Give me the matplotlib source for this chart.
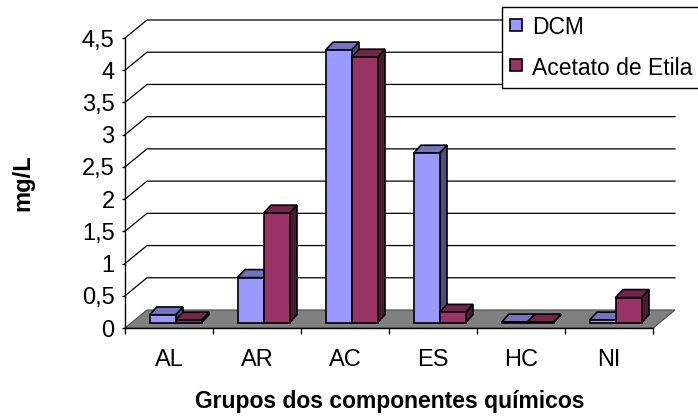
import matplotlib
matplotlib.use("Agg")
import matplotlib.pyplot as plt
from matplotlib.patches import Polygon
from matplotlib.lines import Line2D
import numpy as np

# ---- data -------------------------------------------------------------
categories = ["AL", "AR", "AC", "ES", "HC", "NI"]
dcm = [0.12, 0.70, 4.23, 2.63, 0.01, 0.04]
acetato = [0.04, 1.70, 4.12, 0.16, 0.01, 0.39]
series_names = ["DCM", "Acetato de Etila"]
yticks = [0, 0.5, 1, 1.5, 2, 2.5, 3, 3.5, 4, 4.5]
ytick_labels = ["0", "0,5", "1", "1,5", "2", "2,5", "3", "3,5", "4", "4,5"]

# ---- style ------------------------------------------------------------
plt.rcParams["font.family"] = ["Liberation Sans", "DejaVu Sans"]

# front, top and side shades of each series
shades = [
    ("#9999FF", "#7373BF", "#4D4D80"),
    ("#993366", "#73264D", "#4D1A33"),
]

W, H = 698, 419
fig = plt.figure(figsize=(W / 100, H / 100), dpi=100)

# front plane of the plot area, in pixels
left_px, right_px, top_px, bottom_px = 125, 653, 38, 328
ax = fig.add_axes([left_px / W, 1 - bottom_px / H,
                   (right_px - left_px) / W, (bottom_px - top_px) / H])
n = len(categories)
ax.set_xlim(0, n)
ax.set_ylim(0, yticks[-1])
ax.patch.set_visible(False)

# pixel sizes in data units, used for the oblique depth effect
px_x = n / (right_px - left_px)
px_y = yticks[-1] / (bottom_px - top_px)
wall_dx, wall_dy = 22 * px_x, 18 * px_y
base_dx, base_dy = 6.5 * px_x, 5.3 * px_y
bar_dx, bar_dy = 7.5 * px_x, 8 * px_y
bar_w = 26 * px_x

# back wall gridlines, running diagonally from the front axis
for y in yticks[1:]:
    ax.plot([0, wall_dx, n + wall_dx], [y, y + wall_dy, y + wall_dy],
            color="black", lw=0.9, clip_on=False, zorder=1)

# grey floor
floor = Polygon([(0, 0), (n, 0), (n + wall_dx, wall_dy), (wall_dx, wall_dy)],
                closed=True, facecolor="#808080", edgecolor="#555555",
                lw=0.9, clip_on=False, zorder=1.5)
ax.add_patch(floor)


def draw_bar(x0, value, cols, z):
    front, top, side = cols
    x1 = x0 + bar_w
    b = base_dy
    t = b + value
    kw = dict(closed=True, edgecolor="black", lw=1.2, clip_on=False,
              zorder=z, joinstyle="miter")
    ax.add_patch(Polygon([(x1, b), (x1 + bar_dx, b + bar_dy),
                          (x1 + bar_dx, t + bar_dy), (x1, t)],
                         facecolor=side, **kw))
    ax.add_patch(Polygon([(x0, t), (x1, t), (x1 + bar_dx, t + bar_dy),
                          (x0 + bar_dx, t + bar_dy)],
                         facecolor=top, **kw))
    ax.add_patch(Polygon([(x0, b), (x1, b), (x1, t), (x0, t)],
                         facecolor=front, **kw))


for i in range(n):
    for s, vals in enumerate([dcm, acetato]):
        x0 = i + 0.5 - bar_w + base_dx + s * bar_w
        draw_bar(x0, vals[i], shades[s], 3 + i * 0.1 + s * 0.01)

# ---- axes -------------------------------------------------------------
for side in ("top", "right"):
    ax.spines[side].set_visible(False)
for side in ("left", "bottom"):
    ax.spines[side].set_color("black")
    ax.spines[side].set_linewidth(1.0)
    ax.spines[side].set_zorder(2)

ax.set_yticks(yticks)
ax.set_yticklabels(ytick_labels)
ax.tick_params(axis="y", length=2, width=1.0, pad=5.5, labelsize=17,
               direction="out")

ax.set_xticks(np.arange(n + 1))
ax.set_xticklabels([])
ax.set_xticks(np.arange(n) + 0.5, minor=True)
ax.set_xticklabels(categories, minor=True)
ax.tick_params(axis="x", which="major", length=4, width=1.0, direction="out")
ax.tick_params(axis="x", which="minor", length=0, pad=15, labelsize=17)
ax.tick_params(axis="y", which="minor", length=0)

fig.text(23 / W, 1 - 182.5 / H, "mg/L", rotation=90, ha="center",
         va="center", fontsize=17, fontweight="bold")
fig.text(390 / W, 1 - 401 / H, "Grupos dos componentes químicos",
         ha="center", va="center", fontsize=16.5, fontweight="bold")

# ---- legend -----------------------------------------------------------
handles = [Line2D([], [], linestyle="none", marker="s", markersize=8.0,
                  markerfacecolor=shades[k][0], markeredgecolor="black",
                  markeredgewidth=1.2)
           for k in range(2)]
leg = fig.legend(handles, series_names, loc="upper left",
                 bbox_to_anchor=(501.7 / W, 1 - 7.3 / H),
                 frameon=True, fancybox=False, edgecolor="black",
                 framealpha=1, fontsize=16.5, handlelength=0.54,
                 handleheight=1.0, handletextpad=0.42, borderpad=0.365,
                 labelspacing=0.77, borderaxespad=0)
leg.get_frame().set_linewidth(1.0)
leg.set_zorder(10)

fig.savefig("out.png", dpi=100)
